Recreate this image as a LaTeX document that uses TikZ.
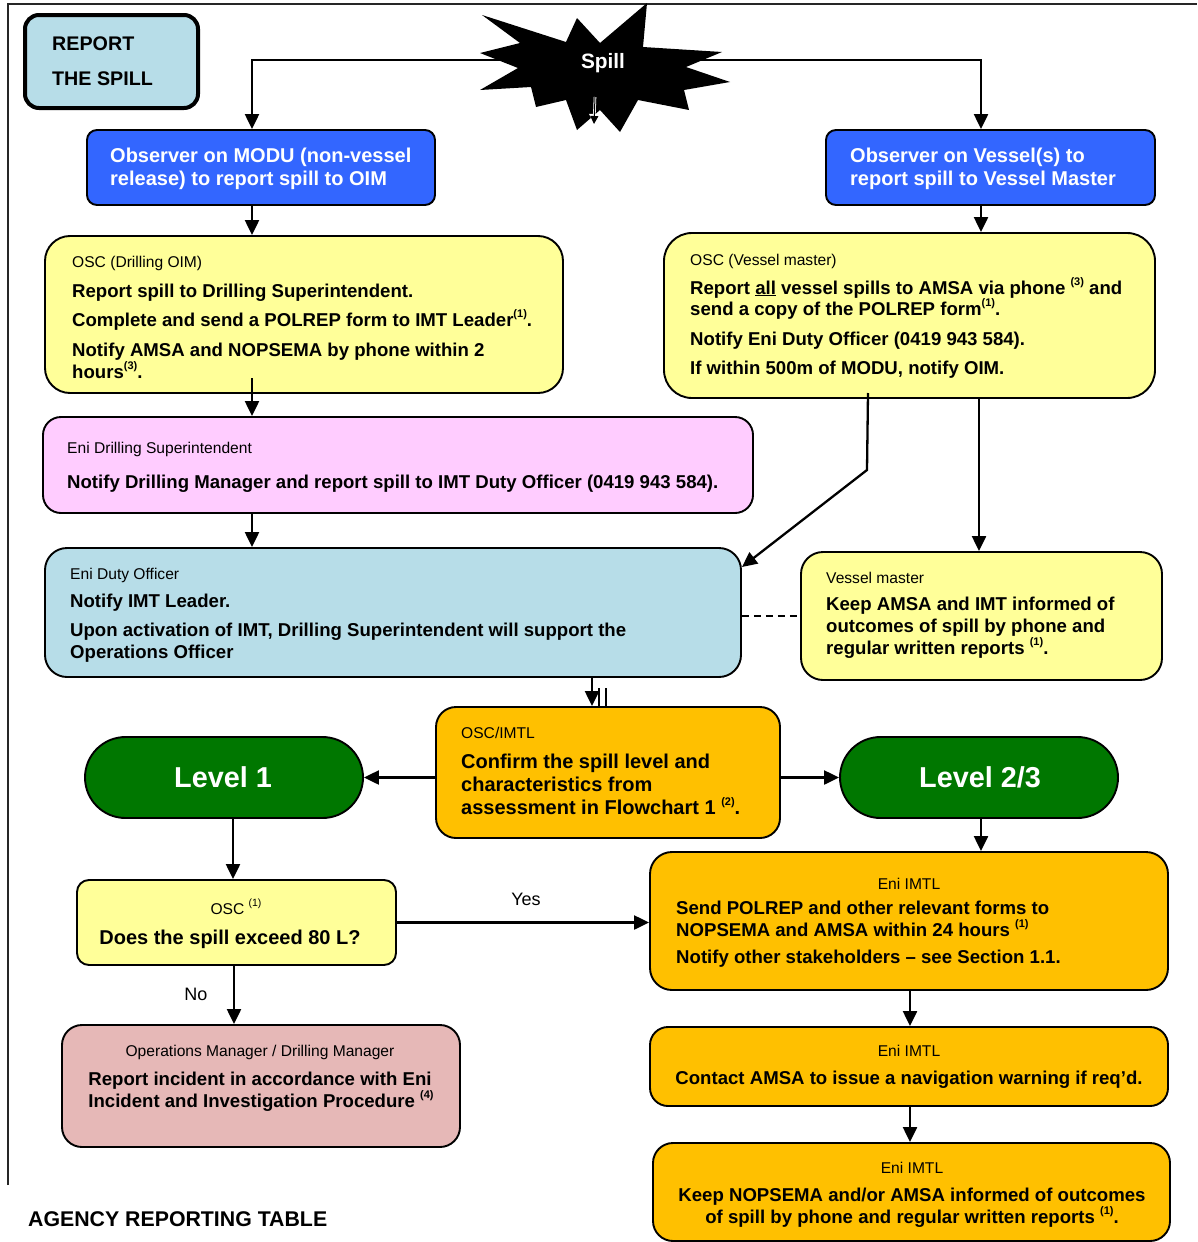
\documentclass[tikz,border=0pt]{standalone}
\usepackage{fontspec}
\setmainfont{Liberation Sans}
\usetikzlibrary{arrows.meta}
\definecolor{cLBlue}{HTML}{B7DDE8}
\definecolor{cBlue}{HTML}{3366FF}
\definecolor{cYel}{HTML}{FFFF99}
\definecolor{cPink}{HTML}{FFCCFF}
\definecolor{cOrg}{HTML}{FFC000}
\definecolor{cGreen}{HTML}{007700}
\definecolor{cRose}{HTML}{E6B8B7}
\newcommand\supb[1]{\raisebox{0.45em}{\fontsize{11}{12}\selectfont\bfseries #1}}
\newcommand\supr[1]{\raisebox{0.5em}{\fontsize{10.5}{12}\selectfont #1}}
\begin{document}
\begin{tikzpicture}[x=1pt,y=-1pt,
  box/.style={draw=black, line width=1.9pt, rounded corners=#1, inner sep=0pt, rectangle},
  box/.default=20pt,
  btxt/.style={anchor=base west, inner sep=0pt, font=\fontsize{18.6}{21}\selectfont\bfseries},
  bigtxt/.style={anchor=base west, inner sep=0pt, font=\fontsize{20}{23}\selectfont\bfseries},
  stxt/.style={anchor=base west, inner sep=0pt, font=\fontsize{15.6}{18}\selectfont},
  wtxt/.style={anchor=base west, inner sep=0pt, text=white, font=\fontsize{20}{23}\selectfont\bfseries},
  lvtxt/.style={inner sep=0pt, text=white, font=\fontsize{28.8}{32}\selectfont\bfseries},
  arr/.style={-{Triangle[length=15pt,width=14pt]}, line width=2.3pt},
  plain/.style={line width=2.3pt}
]
\useasboundingbox (0,0) rectangle (1197,1242);
% frame
\draw[line width=1.6pt, black!85] (8,1185) -- (8,4) -- (1197,4);

% boxes
\node[box=14pt, line width=4pt, fill=cLBlue, minimum width=173pt, minimum height=93pt] (rep) at (111.5,61.5) {};
\node[box=10pt, fill=cBlue, minimum width=348pt, minimum height=75pt] (blueL) at (261,167.5) {};
\node[box=10pt, fill=cBlue, minimum width=329pt, minimum height=75pt] (blueR) at (990.5,167.5) {};
\node[box=25pt, fill=cYel, minimum width=518pt, minimum height=157pt] (osc1) at (304,314.5) {};
\node[box=28pt, fill=cYel, minimum width=491pt, minimum height=165pt] (osc2) at (909.5,315.5) {};
\node[box=18pt, fill=cPink, minimum width=710pt, minimum height=96pt] (pink) at (398,465) {};
\node[box=22pt, fill=cLBlue, minimum width=696pt, minimum height=129pt] (duty) at (393,612.5) {};
\node[box=22pt, fill=cYel, minimum width=361pt, minimum height=128pt] (vm) at (981.5,616) {};
\node[box=20pt, fill=cOrg, minimum width=344pt, minimum height=131pt] (imtl0) at (608,772.5) {};
\node[box=40.5pt, fill=cGreen, minimum width=278pt, minimum height=81pt] (lv1) at (224,777.5) {};
\node[box=40.5pt, fill=cGreen, minimum width=278pt, minimum height=81pt] (lv23) at (979,777.5) {};
\node[box=12pt, fill=cYel, minimum width=319pt, minimum height=85pt] (oscq) at (236.5,922.5) {};
\node[box=20pt, fill=cRose, minimum width=398pt, minimum height=122pt] (ops) at (261,1086) {};
\node[box=22pt, fill=cOrg, minimum width=518pt, minimum height=138pt] (im1) at (909,921) {};
\node[box=18pt, fill=cOrg, minimum width=518pt, minimum height=79pt] (im2) at (909,1066.5) {};
\node[box=20pt, fill=cOrg, minimum width=517pt, minimum height=98pt] (im3) at (911.5,1192) {};

% helper coordinates
\coordinate (aL) at (252,0);
\coordinate (aR) at (981,0);
\coordinate (aV) at (979,0);
\coordinate (aD) at (592,0);
\coordinate (aQ) at (233,0);
\coordinate (aO) at (234,0);
\coordinate (aI) at (910,0);
\coordinate (sL) at (560,60);
\coordinate (sR) at (650,60);
\coordinate (o1b) at (252,378);
\coordinate (o2b) at (868,393);
\coordinate (bend) at (867,470);
\coordinate (dutyE) at (742,567);
\coordinate (p1) at (599,688);
\coordinate (p2) at (606,688);

% connectors
\draw[arr] (sL) -| (aL |- blueL.north);
\draw[arr] (sR) -| (aR |- blueR.north);
\draw[arr] (aL |- blueL.south) -- (aL |- osc1.north);
\draw[arr] (aR |- blueR.south) -- (aR |- osc2.north);
\draw[arr] (o1b) -- (aL |- pink.north);
\draw[arr] (aL |- pink.south) -- (aL |- duty.north);
\draw[arr] (o2b) -- (bend) -- (dutyE);
\draw[arr] (aV |- osc2.south) -- (aV |- vm.north);
\draw[line width=1.8pt, dashed, dash pattern=on 7pt off 5pt] (vm.west -| duty.east) -- (vm.west);
\draw[arr] (aD |- duty.south) -- (aD |- imtl0.north);
\draw[plain] (p1) -- (p1 |- imtl0.north);
\draw[plain] (p2) -- (p2 |- imtl0.north);
\draw[arr] (lv1.east -| imtl0.west) -- (lv1.east);
\draw[arr] (lv23.west -| imtl0.east) -- (lv23.west);
\draw[arr] (aQ |- lv1.south) -- (aQ |- oscq.north);
\draw[arr] (oscq.east) -- (oscq.east -| im1.west);
\draw[arr] (aO |- oscq.south) -- (aO |- ops.north);
\draw[arr] (aR |- lv23.south) -- (aR |- im1.north);
\draw[arr] (aI |- im1.south) -- (aI |- im2.north);
\draw[arr] (aI |- im2.south) -- (aI |- im3.north);

% spill star
\fill[black] (482,15) -- (566,42) -- (577,18) -- (600,43) -- (647,3) -- (643,47) -- (722,52) -- (686,67)
  -- (730,82) -- (684,90) -- (689,110) -- (638,100) -- (620,132) -- (600,110) -- (577,130) -- (566,100)
  -- (536,107) -- (531,87) -- (480,90) -- (518,68) -- (480,53) -- (520,43) -- cycle;
\node[inner sep=0pt, text=white, font=\fontsize{20.8}{24}\selectfont\bfseries] (spill) at (603,63) {Spill};
\coordinate (sp1) at (595,97);
\coordinate (sp2) at (594,124);
\draw[-{Triangle[length=10pt,width=10pt]}, white, line width=2.6pt] (sp1) -- (sp2);
\draw[-{Triangle[length=8pt,width=8pt]}, black, line width=1pt] (sp1) -- (sp2);

% texts
\node[wtxt, text=black, font=\fontsize{19.7}{23}\selectfont\bfseries] (tr1) at (52,50) {REPORT};
\node[wtxt, text=black, font=\fontsize{19.7}{23}\selectfont\bfseries] (tr2) at (52,85) {THE SPILL};

\node[wtxt] (tb1) at (110,162) {Observer on MODU (non-vessel};
\node[wtxt] (tb2) at (110,185) {release) to report spill to OIM};
\node[wtxt] (tb3) at (850,162) {Observer on Vessel(s) to};
\node[wtxt] (tb4) at (850,185) {report spill to Vessel Master};

\node[stxt] (to0) at (72,267) {OSC (Drilling OIM)};
\node[btxt] (to1) at (72,297) {Report spill to Drilling Superintendent.};
\node[btxt] (to2) at (72,326) {Complete and send a POLREP form to IMT Leader\supb{(1)}.};
\node[btxt] (to3) at (72,356) {Notify AMSA and NOPSEMA by phone within 2};
\node[btxt] (to4) at (72,378) {hours\supb{(3)}.};

\node[stxt] (tv0) at (690,265) {OSC (Vessel master)};
\node[btxt] (tv1) at (690,294) {Report \underline{all} vessel spills to AMSA via phone \supb{(3)} and};
\node[btxt] (tv2) at (690,315) {send a copy of the POLREP form\supb{(1)}.};
\node[btxt] (tv3) at (690,345) {Notify Eni Duty Officer (0419 943 584).};
\node[btxt] (tv4) at (690,374) {If within 500m of MODU, notify OIM.};

\node[stxt] (tp0) at (67,453) {Eni Drilling Superintendent};
\node[btxt] (tp1) at (67,488) {Notify Drilling Manager and report spill to IMT Duty Officer (0419 943 584).};

\node[stxt] (td0) at (70,579) {Eni Duty Officer};
\node[btxt] (td1) at (70,607) {Notify IMT Leader.};
\node[btxt] (td2) at (70,636) {Upon activation of IMT, Drilling Superintendent will support the};
\node[btxt] (td3) at (70,658) {Operations Officer};

\node[stxt] (tm0) at (826,583) {Vessel master};
\node[btxt] (tm1) at (826,610) {Keep AMSA and IMT informed of};
\node[btxt] (tm2) at (826,632) {outcomes of spill by phone and};
\node[btxt] (tm3) at (826,654) {regular written reports \supb{(1)}.};

\node[stxt] (tc0) at (461,738) {OSC/IMTL};
\node[bigtxt] (tc1) at (461,768) {Confirm the spill level and};
\node[bigtxt] (tc2) at (461,791) {characteristics from};
\node[bigtxt] (tc3) at (461,814) {assessment in Flowchart 1 \supb{(2)}.};

\node[lvtxt] (tl1) at (223,777) {Level 1};
\node[lvtxt] (tl2) at (980,777) {Level 2/3};

\node[stxt, anchor=base] (tq0) at (236,914) {OSC \supr{(1)}};
\node[bigtxt, anchor=base] (tq1) at (230,944) {Does the spill exceed 80 L?};

\node[inner sep=0pt, font=\fontsize{18}{21}\selectfont] (yes) at (526,899) {Yes};
\node[inner sep=0pt, font=\fontsize{18}{21}\selectfont] (no) at (196,994) {No};

\node[stxt, anchor=base] (ts0) at (260,1056) {Operations Manager / Drilling Manager};
\node[btxt, anchor=base] (ts1) at (260,1085) {Report incident in accordance with Eni};
\node[btxt, anchor=base] (ts2) at (261,1107) {Incident and Investigation Procedure \supb{(4)}};

\node[stxt, anchor=base] (ti0) at (909,889) {Eni IMTL};
\node[btxt] (ti1) at (676,914) {Send POLREP and other relevant forms to};
\node[btxt] (ti2) at (676,936) {NOPSEMA and AMSA within 24 hours \supb{(1)}};
\node[btxt] (ti3) at (676,963) {Notify other stakeholders -- see Section 1.1.};

\node[stxt, anchor=base] (tj0) at (909,1056) {Eni IMTL};
\node[btxt, anchor=base] (tj1) at (909,1084) {Contact AMSA to issue a navigation warning if req'd.};

\node[stxt, anchor=base] (tk0) at (912,1173) {Eni IMTL};
\node[btxt, anchor=base] (tk1) at (912,1201) {Keep NOPSEMA and/or AMSA informed of outcomes};
\node[btxt, anchor=base] (tk2) at (912,1223) {of spill by phone and regular written reports \supb{(1)}.};

\node[wtxt, text=black, font=\fontsize{21.3}{24}\selectfont\bfseries] (agency) at (28,1226) {AGENCY REPORTING TABLE};
\end{tikzpicture}
\end{document}
